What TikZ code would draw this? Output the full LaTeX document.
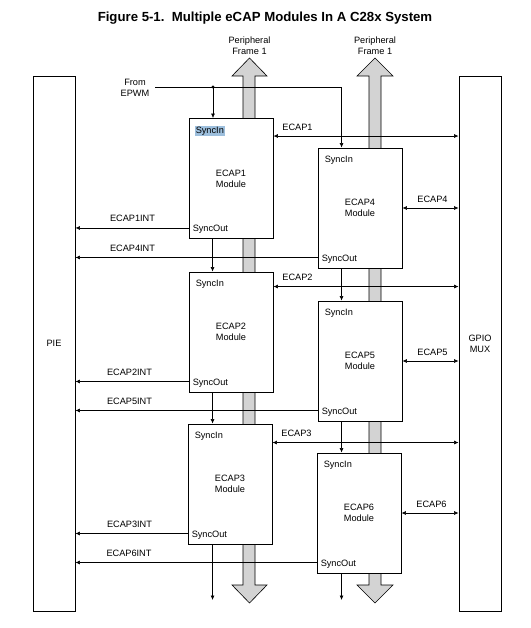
\documentclass[tikz,border=0pt]{standalone}
\usepackage{fontspec}
\setmainfont{Liberation Sans}
\usetikzlibrary{arrows.meta,calc}
\definecolor{shaftgray}{RGB}{211,211,211}
\definecolor{hilite}{RGB}{157,191,221}
\begin{document}
\begin{tikzpicture}[x=1pt,y=-1pt,
  every node/.style={font=\fontsize{9.2}{10.8}\selectfont, inner sep=0pt},
  modbox/.style={draw, line width=0.9pt, fill=white, minimum width=84pt, minimum height=120pt, align=center},
  sidebox/.style={draw, line width=0.9pt, minimum width=42pt, minimum height=535pt, align=center},
  conn/.style={line width=0.6pt},
  arr/.style={conn, -{Latex[length=4.5pt,width=4pt]}},
  darr/.style={conn, {Latex[length=4.5pt,width=4pt]}-{Latex[length=4.5pt,width=4pt]}},
  shaft/.style={fill=shaftgray, draw, line width=0.6pt},
  lbl/.style={align=center}]
\useasboundingbox (0,0) rectangle (530,628);

% title
\node[font=\fontsize{13.2}{15}\bfseries] (title) at (265,18) {Figure 5-1.\ \ Multiple eCAP Modules In A C28x System};

% gray peripheral frame arrows
\path[shaft] (243,76) -- (232,76) -- (249.5,58) -- (267,76) -- (255,76) -- (255,585) -- (267,585) -- (249.5,603) -- (232,585) -- (243,585) -- cycle;
\path[shaft] (369,76) -- (357,76) -- (375,58) -- (393,76) -- (381,76) -- (381,585) -- (393,585) -- (375,603) -- (357,585) -- (369,585) -- cycle;
\node[lbl] (pf1) at (249.5,45.5) {Peripheral\\Frame 1};
\node[lbl] (pf2) at (375,45.5) {Peripheral\\Frame 1};

% side boxes
\node[sidebox] (pie) at (54,343.5) {PIE};
\node[sidebox] (gpio) at (480,343.5) {GPIO\\MUX};

% module boxes
\node[modbox] (e1) at (231,178.5) {ECAP1\\Module};
\node[modbox] (e2) at (231,332) {ECAP2\\Module};
\node[modbox] (e3) at (230,484) {ECAP3\\Module};
\node[modbox] (e4) at (360,208) {ECAP4\\Module};
\node[modbox] (e5) at (360,361) {ECAP5\\Module};
\node[modbox] (e6) at (359,513) {ECAP6\\Module};

% SyncIn / SyncOut labels
\foreach \b in {e1,e2,e3,e4,e5,e6}{
  \node[anchor=west] (\b out) at ($(\b.south west)+(4,-9.5)$) {SyncOut};
}
\node[anchor=west, fill=hilite, inner xsep=1pt, inner ysep=1pt] (e1in) at ($(e1.north west)+(6,13)$) {SyncIn};
\foreach \b in {e2,e3,e4,e5,e6}{
  \node[anchor=west] (\b in) at ($(\b.north west)+(7,13)$) {SyncIn};
}

% From EPWM
\node[lbl] (epwm) at (135,88) {From\\EPWM};
\coordinate (ep) at (155,87);
\coordinate (dot) at (213,87);
\fill (dot) circle (1.6);
\draw[arr] (ep) -| ($(e4.north west)+(24,0)$);
\draw[arr] (dot) -- (dot |- e1.north);

% sync chain
\coordinate (s1) at ($(e1.south west)+(24,0)$);
\coordinate (s2) at ($(e2.south west)+(24,0)$);
\coordinate (s4) at ($(e4.south west)+(24,0)$);
\coordinate (s5) at ($(e5.south west)+(24,0)$);
\draw[arr] (s1) -- (s1 |- e2.north);
\draw[arr] (s2) -- (s2 |- e3.north);
\draw[arr] (s4) -- (s4 |- e5.north);
\draw[arr] (s5) -- (s5 |- e6.north);
\coordinate (s3) at (s2 |- e3.south);
\coordinate (s6) at (s5 |- e6.south);
\coordinate (o3) at (s2 |- 0,600);
\coordinate (o6) at (s5 |- 0,600);
\draw[arr] (s3) -- (o3);
\draw[arr] (s6) -- (o6);

% interrupts to PIE
\foreach \b/\t/\lx in {e1/ECAP1INT/132.5, e2/ECAP2INT/129.5, e3/ECAP3INT/129.5, e4/ECAP4INT/132.5, e5/ECAP5INT/129.5, e6/ECAP6INT/129}{
  \coordinate (\b i) at ($(\b.south west)+(0,-11)$);
  \draw[arr] (\b i) -- (\b i -| pie.east);
  \node (\b il) at ($(\b i -| 0,0)+(\lx,-9.5)$) {\t};
}

% ECAP lines to GPIO
\foreach \b/\t/\dy in {e1/ECAP1/18, e2/ECAP2/15, e3/ECAP3/19}{
  \coordinate (\b g) at ($(\b.north east)+(0,\dy)$);
  \draw[darr] (\b g) -- (\b g -| gpio.west);
  \node (\b gl) at ($(\b g)+(24,-9)$) {\t};
}
\foreach \b/\t in {e4/ECAP4, e5/ECAP5, e6/ECAP6}{
  \draw[darr] (\b.east) -- (\b.east -| gpio.west);
  \node (\b gl) at ($(\b.east)+(30,-8.5)$) {\t};
}
\end{tikzpicture}
\end{document}
